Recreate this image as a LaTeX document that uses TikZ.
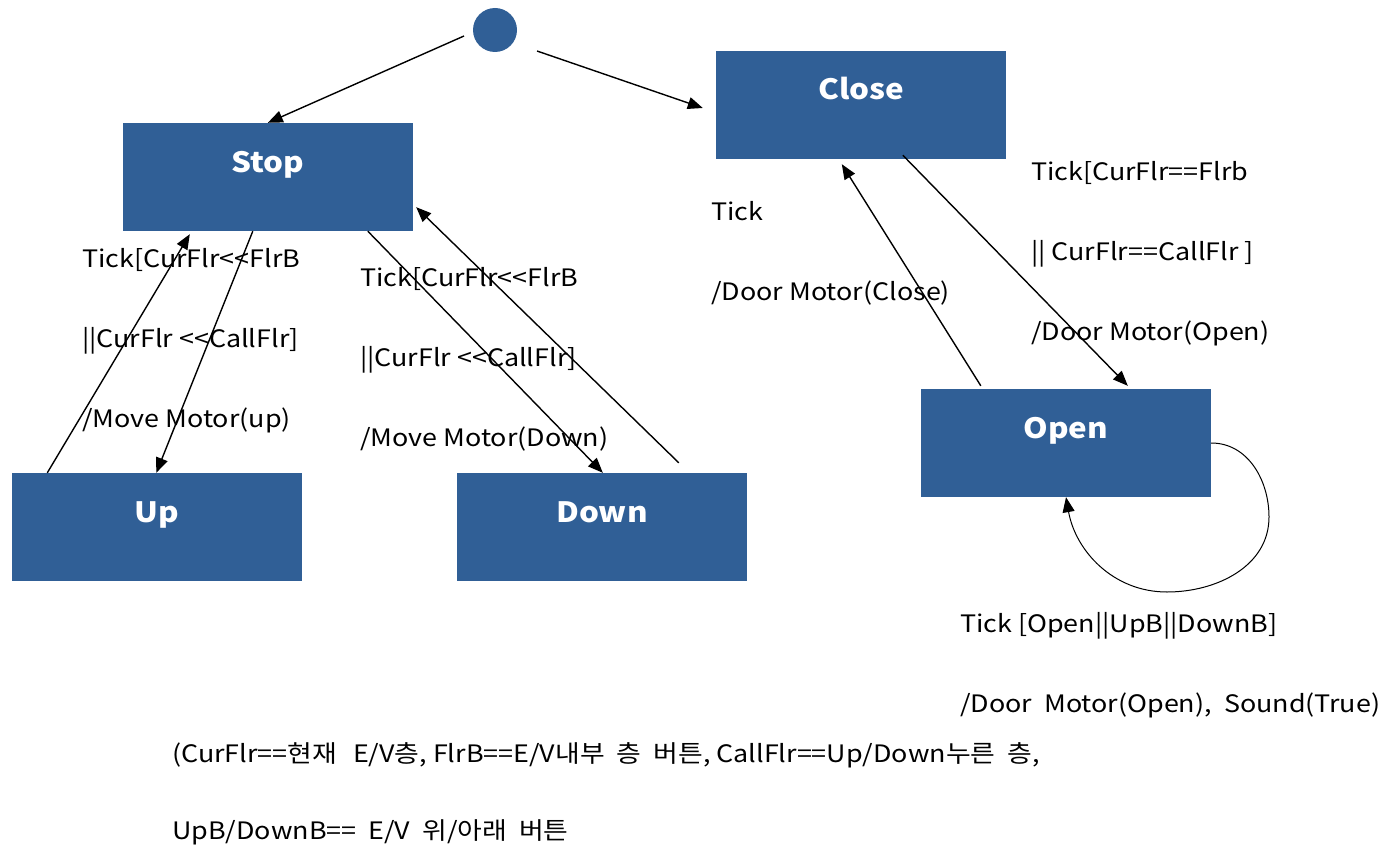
\documentclass[tikz,border=0pt]{standalone}
\usepackage{fontspec}
\setmainfont[FakeStretch=1.12]{Noto Sans CJK KR}
\usetikzlibrary{arrows.meta}
\definecolor{stateblue}{RGB}{48,95,150}
\tikzset{
  state/.style={rectangle, fill=stateblue, draw=none, minimum width=290pt, minimum height=108pt,
    inner sep=0pt, text=white, font=\fontsize{28}{32}\selectfont\bfseries,
    text height=24pt, text depth=34pt},
  initial/.style={circle, fill=stateblue, draw=none, minimum size=44pt, inner sep=0pt},
  arr/.style={line width=1.4pt, -{Triangle[length=15pt,width=12pt]}},
  guard/.style={anchor=base west, align=left, inner sep=0pt,
    font=\fontsize{24}{80}\selectfont},
}
\begin{document}
\begin{tikzpicture}[x=1pt,y=-1pt]
\useasboundingbox (0,0) rectangle (1386,848);

% states
\node[initial] (init) at (495,30) {};
\node[state] (stop)  at (268,177) {Stop};
\node[state] (close) at (861,105) {Close};
\node[state] (up)    at (156.5,527) {Up};
\node[state] (down)  at (602,527) {Down};
\node[state] (open)  at (1066,443) {Open};

% initial transitions
\draw[arr] ([shift={(-31,6)}]init.center) -- ([xshift=145pt]stop.north west);
\draw[arr] ([shift={(42,21)}]init.center) -- ([xshift=-13pt,yshift=-3pt]close.west);

% Stop <-> Up
\draw[arr] ([xshift=36pt]up.north west) -- ([xshift=67pt,yshift=-3pt]stop.south west);
\draw[arr] ([xshift=130pt]stop.south west) -- ([xshift=145pt]up.north west);
% Stop <-> Down
\draw[arr] ([xshift=245pt]stop.south west) -- ([xshift=146pt]down.north west);
\draw[arr] ([xshift=222pt,yshift=10pt]down.north west) -- ([xshift=3pt,yshift=24pt]stop.south east);
% Close <-> Open
\draw[arr] ([xshift=187pt,yshift=4pt]close.south west) -- ([xshift=207pt,yshift=3pt]open.north west);
\draw[arr] ([xshift=60pt,yshift=3pt]open.north west) -- ([xshift=126pt,yshift=-5pt]close.south west);
% Open self loop
\coordinate (loopR) at (1269,517);
\coordinate (loopB) at (1167,592);
\draw[arr, line width=1pt] (open.east) to[out=0,in=90] (loopR) to[out=-90,in=0] (loopB)
  to[out=180,in=-80] (open.south);

% transition labels (anchored at the baseline of their last line)
\node[guard] (lup) at (82,427) {Tick[CurFlr<{}<FlrB\\||CurFlr <{}<CallFlr]\\/Move Motor(up)};
\node[guard] (ldown) at (360,446) {Tick[CurFlr<{}<FlrB\\||CurFlr <{}<CallFlr]\\/Move Motor(Down)};
\node[guard] (lclose) at (711,300) {Tick\\/Door Motor(Close)};
\node[guard] (lopen) at (1031,340) {Tick[CurFlr==Flrb\\|| CurFlr==CallFlr ]\\/Door Motor(Open)};
\node[guard] (lloop) at (960,712) {Tick [Open||UpB||DownB]\\\makebox[420pt][s]{/Door\hfill Motor(Open),\hfill Sound(True)}};

% legend
\node[guard, font=\fontsize{24}{77}\selectfont] (legend) at (172,839)
  {(CurFlr==현재\hspace{10pt} E/V층, FlrB==E/V내부\hspace{6pt} 층\hspace{6pt} 버튼, CallFlr==Up/Down누른\hspace{6pt} 층,\\UpB/DownB==\hspace{6pt} E/V\hspace{6pt} 위/아래\hspace{6pt} 버튼};
\end{tikzpicture}
\end{document}
